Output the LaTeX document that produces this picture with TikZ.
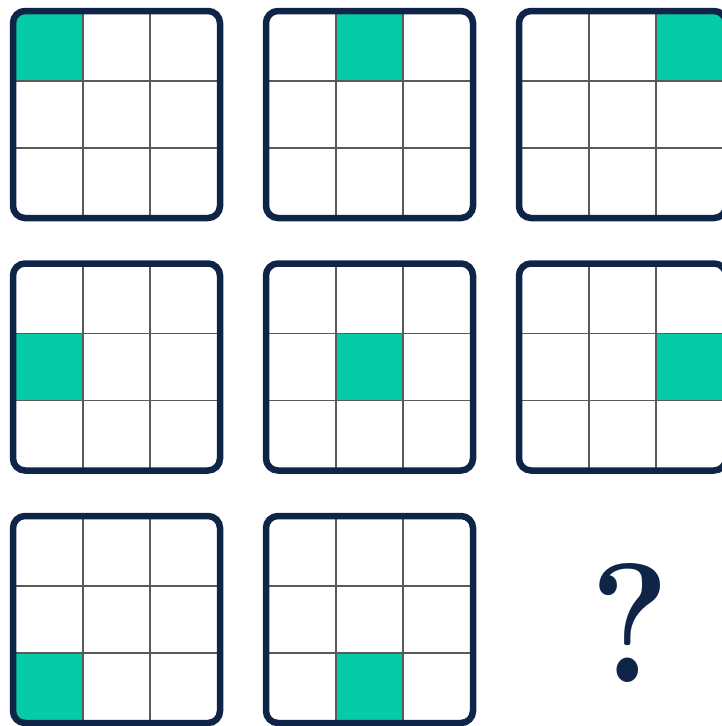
\documentclass[tikz,border=0pt]{standalone}
\definecolor{navy}{HTML}{0E2547}
\definecolor{tealcell}{HTML}{05CCA6}
\definecolor{gridgray}{HTML}{5A5A5A}
\begin{document}
\begin{tikzpicture}[x=1pt,y=-1pt,
  frame/.style={draw=navy,line width=6.5pt,rounded corners=12pt},
  cellline/.style={draw=gridgray,line width=1.3pt},
  mark cell/.style={fill=tealcell}]
\useasboundingbox[fill=white] (0,0) rectangle (722,726);
\foreach \c/\r in {0/0,1/0,2/0,0/1,1/1,2/1,0/2,1/2}{
  \pgfmathsetmacro\L{10+253*\c}
  \pgfmathsetmacro\T{8+252.5*\r}
  \begin{scope}[shift={(\L,\T)}]
    \fill[mark cell] ({6+67*\c},{6+67*\r}) rectangle ++(67,67);
    \draw[cellline] (73,6) -- (73,207) (140,6) -- (140,207)
                    (6,73) -- (207,73) (6,140) -- (207,140);
    \draw[frame] (3,3) rectangle (210,210);
  \end{scope}
}
\node[text=navy, font=\fontsize{170}{170}\selectfont\bfseries, anchor=base, inner sep=0pt] (q) at (630,682) {\scalebox{0.88}[1]{?}};
\end{tikzpicture}
\end{document}
